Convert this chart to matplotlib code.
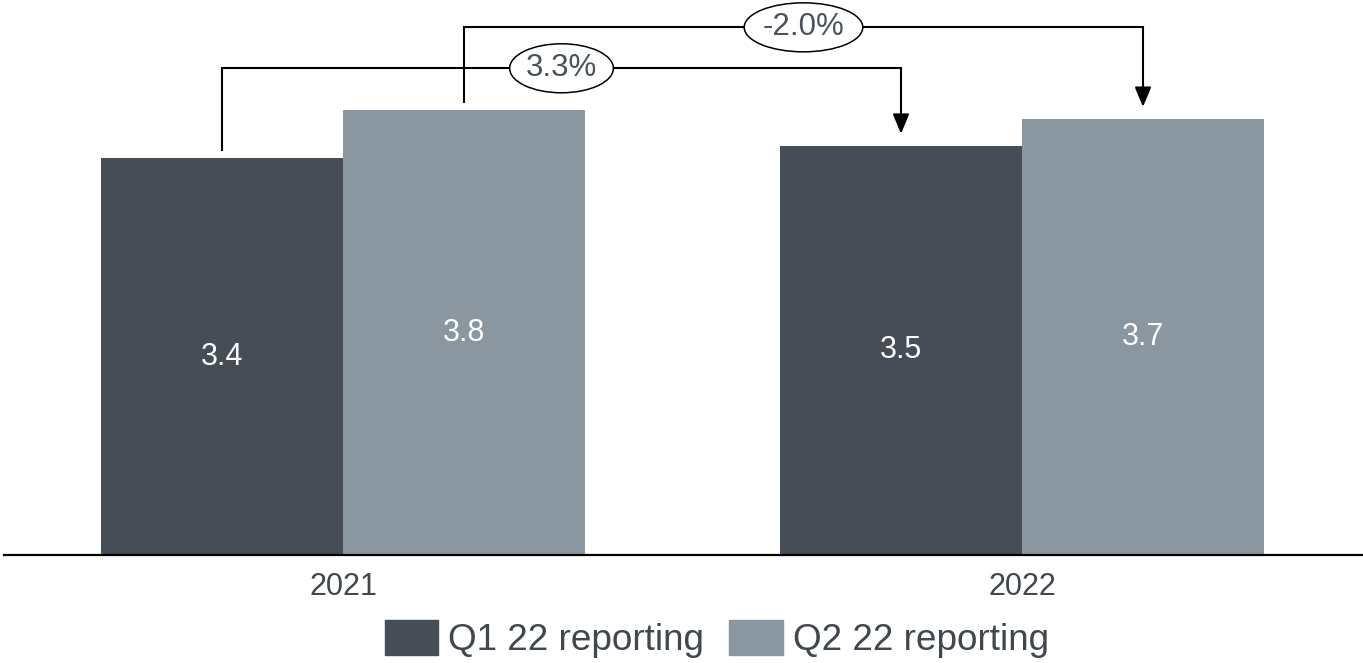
import matplotlib
matplotlib.use("Agg")
import matplotlib.pyplot as plt
from matplotlib.patches import Patch, Ellipse

plt.rcParams['font.family'] = ['Liberation Sans', 'DejaVu Sans']

# ---- data ----
categories = ["2021", "2022"]
series_names = ["Q1 22 reporting", "Q2 22 reporting"]
q1_values = [3.39, 3.50]
q2_values = [3.80, 3.73]
change_labels = ["3.3%", "-2.0%"]   # Q1 2021 -> Q1 2022, Q2 2021 -> Q2 2022

# ---- style ----
c_q1 = "#464D57"
c_q2 = "#8A97A0"
txt_dark = "#40474F"
W, H = 1363, 663
fig = plt.figure(figsize=(W / 100, H / 100), dpi=100)
base_px = 555
ax = fig.add_axes([3.5 / W, (H - base_px) / H, 1358 / W, base_px / H])

x = list(range(len(categories)))
bw = 0.3564
b1 = ax.bar([i - bw / 2 for i in x], q1_values, width=bw, color=c_q1, label=series_names[0])
b2 = ax.bar([i + bw / 2 for i in x], q2_values, width=bw, color=c_q2, label=series_names[1])
ax.bar_label(b1, labels=[f"{v:.1f}" for v in q1_values], label_type='center', color='white', fontsize=22)
ax.bar_label(b2, labels=[f"{v:.1f}" for v in q2_values], label_type='center', color='white', fontsize=22)

ax.set_xlim(-0.5, 1.5)
ax.set_ylim(0, base_px / 117.0)
ax.set_xticks(x)
ax.set_xticklabels(categories, fontsize=22, color=txt_dark)
ax.tick_params(axis='x', length=0, pad=12)
ax.set_yticks([])
for s in ['top', 'left', 'right']:
    ax.spines[s].set_visible(False)
ax.spines['bottom'].set_linewidth(1.6)
ax.spines['bottom'].set_color('black')

# ---- change connectors ----
top = max(q1_values + q2_values)
levels = [top + 0.36, top + 0.71]
pairs = [(q1_values, -bw / 2), (q2_values, bw / 2)]
label_texts = []
for (vals, off), lvl, lab in zip(pairs, levels, change_labels):
    xs, xe = 0 + off, 1 + off
    ys, ye = vals[0] + 0.07, vals[1] + 0.10
    ax.plot([xs, xs, xe], [ys, lvl, lvl], color='black', lw=1.5, solid_joinstyle='miter', zorder=3)
    ax.annotate('', xy=(xe, ye), xytext=(xe, lvl),
                arrowprops=dict(arrowstyle='-|>,head_length=1.2,head_width=0.5',
                                color='black', lw=1.5, shrinkA=0, shrinkB=0), zorder=3)
    t = ax.text((xs + xe) / 2, lvl, lab, ha='center', va='center', fontsize=22.5,
                color='#4A525C', zorder=5)
    label_texts.append(t)

# ellipses sized from the rendered text
fig.canvas.draw()
renderer = fig.canvas.get_renderer()
p0 = ax.transData.transform((0, 0))
p1 = ax.transData.transform((1, 1))
px_per_x = p1[0] - p0[0]
px_per_y = p1[1] - p0[1]
for t in label_texts:
    bb = t.get_window_extent(renderer)
    w_px = bb.width * 1.414 + 3
    h_px = 49
    cx, cy = t.get_position()
    ax.add_patch(Ellipse((cx, cy), w_px / px_per_x, h_px / px_per_y,
                         fc='white', ec='black', lw=1.1, zorder=4))

# ---- legend ----
handles = [Patch(color=c_q1), Patch(color=c_q2)]
leg = fig.legend(handles, series_names, loc='center', bbox_to_anchor=(717 / W, 1 - 639 / H),
                 ncol=2, frameon=False, fontsize=26.6, handlelength=1.44, handleheight=1.06,
                 handletextpad=0.27, columnspacing=0.68, borderpad=0, borderaxespad=0)
for t in leg.get_texts():
    t.set_color(txt_dark)

fig.savefig("out.png", dpi=100)
